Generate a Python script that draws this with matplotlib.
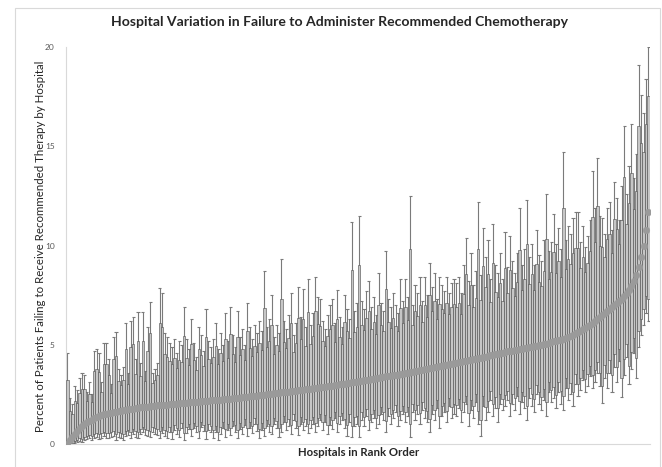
import matplotlib

matplotlib.use("Agg")
import matplotlib.pyplot as plt
from matplotlib.patches import Rectangle

plt.rcParams["font.family"] = ["Lato", "DejaVu Sans"]

TITLE = "Hospital Variation in Failure to Administer Recommended Chemotherapy"
XLABEL = "Hospitals in Rank Order"
YLABEL = "Percent of Patients Failing to Receive Recommended Therapy by Hospital"
YTICKS = [0, 5, 10, 15, 20]

# Hospital failure rate (%) in rank order, with the lower/upper interval bounds.
rate = [
    0.0, 0.2, 0.35, 0.5, 0.65, 0.8, 0.9, 1.0, 1.1, 1.15, 1.22, 1.3, 1.35, 1.4, 1.45, 1.5, 1.52, 1.55, 1.58, 1.6,
    1.62, 1.65, 1.67, 1.7, 1.72, 1.74, 1.76, 1.78, 1.8, 1.82, 1.84, 1.86, 1.87, 1.88, 1.9, 1.91, 1.92, 1.94, 1.95, 1.96,
    1.97, 1.98, 2.0, 2.01, 2.02, 2.03, 2.05, 2.06, 2.07, 2.08, 2.1, 2.11, 2.12, 2.13, 2.14, 2.15, 2.17, 2.18, 2.19, 2.2,
    2.21, 2.22, 2.23, 2.24, 2.25, 2.26, 2.28, 2.29, 2.3, 2.31, 2.33, 2.34, 2.35, 2.37, 2.38, 2.4, 2.41, 2.43, 2.44, 2.46,
    2.47, 2.49, 2.5, 2.52, 2.53, 2.55, 2.56, 2.58, 2.6, 2.61, 2.63, 2.64, 2.66, 2.67, 2.69, 2.7, 2.72, 2.73, 2.75, 2.76,
    2.78, 2.8, 2.81, 2.83, 2.85, 2.86, 2.88, 2.9, 2.92, 2.94, 2.96, 2.98, 3.0, 3.02, 3.04, 3.06, 3.08, 3.1, 3.12, 3.14,
    3.16, 3.18, 3.2, 3.22, 3.24, 3.26, 3.28, 3.3, 3.33, 3.35, 3.37, 3.4, 3.42, 3.44, 3.46, 3.48, 3.5, 3.52, 3.55, 3.57,
    3.6, 3.62, 3.64, 3.67, 3.7, 3.72, 3.75, 3.77, 3.8, 3.82, 3.85, 3.87, 3.9, 3.92, 3.95, 3.97, 4.0, 4.02, 4.05, 4.07,
    4.1, 4.12, 4.15, 4.17, 4.2, 4.22, 4.25, 4.28, 4.3, 4.33, 4.35, 4.38, 4.4, 4.43, 4.46, 4.49, 4.52, 4.55, 4.58, 4.6,
    4.63, 4.66, 4.68, 4.7, 4.72, 4.75, 4.77, 4.8, 4.82, 4.85, 4.88, 4.9, 4.93, 4.96, 4.98, 5.0, 5.03, 5.06, 5.1, 5.14,
    5.17, 5.2, 5.23, 5.26, 5.3, 5.35, 5.4, 5.45, 5.5, 5.57, 5.63, 5.7, 5.77, 5.85, 5.92, 6.0, 6.1, 6.2, 6.3, 6.4,
    6.5, 6.6, 6.7, 6.8, 6.9, 7.0, 7.1, 7.2, 7.3, 7.45, 7.6, 7.75, 7.95, 8.2, 8.5, 8.9, 9.4, 10.0, 10.8, 11.7,
]

upper = [
    4.6, 2.3, 2.0, 2.9, 2.7, 3.3, 3.6, 3.5, 2.6, 3.1, 2.5, 4.7, 4.8, 4.6, 3.1, 5.1, 5.1, 4.3, 3.0, 5.4,
    5.65, 3.8, 3.5, 3.9, 6.1, 3.6, 6.2, 6.4, 4.3, 6.65, 4.1, 6.65, 3.7, 5.9, 7.15, 3.6, 3.8, 4.1, 7.85, 7.6,
    5.6, 5.4, 5.1, 4.9, 5.3, 4.6, 5.2, 5.0, 6.9, 5.3, 4.8, 6.3, 5.1, 4.4, 5.9, 5.5, 4.7, 6.8, 5.2, 4.9,
    5.3, 6.1, 4.8, 5.6, 5.0, 6.6, 5.2, 6.9, 5.5, 4.9, 6.7, 5.4, 5.8, 5.0, 7.1, 5.9, 5.3, 6.0, 5.6, 6.2,
    5.7, 8.7, 5.9, 6.3, 7.5, 5.4, 6.0, 5.6, 9.3, 6.2, 5.8, 6.5, 7.6, 5.5, 6.1, 7.9, 6.4, 7.8, 5.9, 8.3,
    6.0, 6.6, 8.4, 7.4, 7.3, 6.2, 5.8, 6.5, 7.0, 7.3, 6.1, 7.75, 6.4, 5.9, 7.5, 6.8, 6.3, 11.2, 6.7, 7.1,
    11.5, 7.2, 6.8, 7.7, 8.2, 6.9, 7.4, 6.5, 8.6, 7.1, 6.7, 9.7, 7.3, 6.9, 7.6, 7.0, 6.6, 8.3, 7.2, 8.3,
    7.4, 12.5, 7.0, 8.0, 7.6, 8.4, 7.2, 8.4, 7.5, 9.1, 7.9, 8.6, 7.3, 8.4, 8.0, 7.7, 8.4, 7.6, 8.1, 8.3,
    8.1, 8.4, 7.6, 9.0, 10.4, 8.2, 9.6, 8.0, 8.7, 12.2, 8.5, 10.9, 9.4, 10.3, 8.3, 11.1, 9.0, 8.6, 9.6, 8.3,
    10.7, 8.9, 10.5, 9.2, 8.6, 9.6, 11.9, 9.0, 9.8, 12.3, 9.4, 10.1, 9.0, 10.8, 9.5, 9.2, 10.3, 12.6, 9.7, 10.2,
    11.6, 10.1, 10.9, 9.8, 14.7, 10.3, 11.0, 10.6, 11.4, 11.7, 11.7, 10.2, 11.0, 9.9, 10.5, 11.3, 13.75, 11.9, 14.4, 11.5,
    11.4, 10.6, 11.9, 12.2, 10.8, 13.2, 12.4, 11.3, 13.0, 16.0, 12.6, 14.0, 16.1, 13.4, 14.6, 19.1, 17.6, 16.7, 18.4, 20.0,
]

lower = [
    0.0, 0.0, 0.0, 0.05, 0.1, 0.15, 0.1, 0.2, 0.25, 0.3, 0.2, 0.3, 0.35, 0.25, 0.3, 0.4, 0.3, 0.3, 0.35, 0.4,
    0.2, 0.35, 0.3, 0.2, 0.4, 0.45, 0.3, 0.5, 0.35, 0.3, 0.5, 0.6, 0.45, 0.4, 0.35, 0.6, 0.5, 0.45, 0.3, 0.55,
    0.4, 0.3, 0.6, 0.25, 0.7, 0.5, 0.35, 0.8, 0.2, 0.55, 0.75, 0.4, 0.8, 0.6, 0.3, 0.85, 0.65, 0.25, 0.7, 0.6,
    0.3, 0.6, 0.2, 0.5, 0.8, 0.35, 0.7, 0.45, 0.9, 0.6, 0.3, 0.75, 0.5, 0.95, 0.4, 0.8, 0.55, 1.0, 0.65, 0.3,
    0.7, 0.4, 0.9, 0.6, 0.5, 1.0, 0.8, 0.35, 0.6, 1.1, 0.7, 0.9, 0.5, 1.2, 0.8, 0.45, 1.0, 0.7, 0.9, 0.55,
    0.8, 1.0, 0.6, 0.9, 1.2, 0.7, 1.1, 0.5, 0.95, 0.75, 1.3, 0.6, 1.0, 1.2, 0.8, 0.4, 1.1, 0.35, 0.9, 1.0,
    0.35, 1.2, 0.9, 1.4, 0.7, 1.1, 1.3, 0.8, 1.0, 1.5, 1.2, 0.6, 1.4, 1.0, 1.3, 1.6, 0.9, 1.2, 1.5, 1.1,
    1.4, 0.35, 1.6, 1.2, 1.5, 1.0, 1.7, 1.3, 1.1, 0.6, 1.5, 1.2, 1.8, 0.8, 1.4, 1.6, 1.1, 1.9, 1.3, 1.5,
    1.4, 1.8, 1.1, 1.6, 2.0, 0.9, 1.7, 1.3, 2.1, 1.0, 0.4, 1.9, 1.2, 1.6, 2.2, 1.4, 1.8, 1.1, 2.0, 1.7,
    1.9, 2.2, 1.4, 2.0, 1.7, 2.4, 1.5, 2.1, 1.8, 1.2, 2.3, 1.9, 1.6, 2.5, 2.0, 1.7, 2.2, 1.4, 2.6, 2.1,
    2.3, 1.8, 2.6, 2.0, 1.7, 2.8, 2.2, 2.5, 1.9, 3.0, 2.4, 2.7, 3.2, 2.6, 2.9, 3.4, 2.8, 3.1, 3.6, 2.9,
    2.05, 3.3, 2.8, 3.6, 2.6, 3.9, 3.1, 4.2, 2.35, 3.5, 4.4, 3.0, 3.8, 4.6, 3.3, 4.9, 5.5, 6.0, 6.6, 6.2,
]

# the shaded band covers this share of each side of the interval
BAND_LOW = 0.8
BAND_HIGH = 0.7

fig = plt.figure(figsize=(6.62, 4.67), dpi=100)
ax = fig.add_axes([0.0997, 0.0493, 0.882, 0.850])

# light border round the chart area
fig.patches.append(Rectangle((0.023, -0.01), 0.974, 0.993, transform=fig.transFigure,
                             fill=False, edgecolor="#d9d9d9", linewidth=0.8))

n = len(rate)
xs = range(n)
cap = 0.65

for x, r, lo, hi in zip(xs, rate, lower, upper):
    ax.vlines(x, lo, hi, color="#7a7a7a", linewidth=0.8, zorder=2)
    ax.hlines([lo, hi], x - cap, x + cap, color="#7a7a7a", linewidth=0.8, zorder=2)
    b_lo = r - BAND_LOW * (r - lo)
    b_hi = r + BAND_HIGH * (hi - r)
    ax.add_patch(Rectangle((x - 0.5, b_lo), 1.0, b_hi - b_lo, facecolor="#c6c6c6",
                           edgecolor="#4a4a4a", linewidth=0.4, zorder=3))

ax.plot(list(xs), rate, linestyle="none", marker="o", markersize=4.8,
        markerfacecolor="#9a9a9a", markeredgecolor="#9a9a9a", markeredgewidth=0.3, zorder=4)

ax.set_xlim(-0.6, n - 0.4)
ax.set_ylim(0, 20)
ax.set_yticks(YTICKS)
ax.set_yticklabels([str(t) for t in YTICKS], fontsize=6, color="#595959")
ax.set_xticks([])
ax.tick_params(axis="y", length=0, pad=8)

for side in ("top", "right"):
    ax.spines[side].set_visible(False)
for side in ("left", "bottom"):
    ax.spines[side].set_color("#d9d9d9")
    ax.spines[side].set_linewidth(0.8)

fig.text(0.513, 0.953, TITLE, ha="center", va="center", fontsize=10.1, fontweight="bold", color="#262626")
fig.text(0.541, 0.030, XLABEL, ha="center", va="center", fontsize=8.2, fontweight="bold", color="#262626")
fig.text(0.061, 0.473, YLABEL, ha="center", va="center", rotation=90, fontsize=8.3, color="#262626")

fig.savefig("out.png", dpi=100)
